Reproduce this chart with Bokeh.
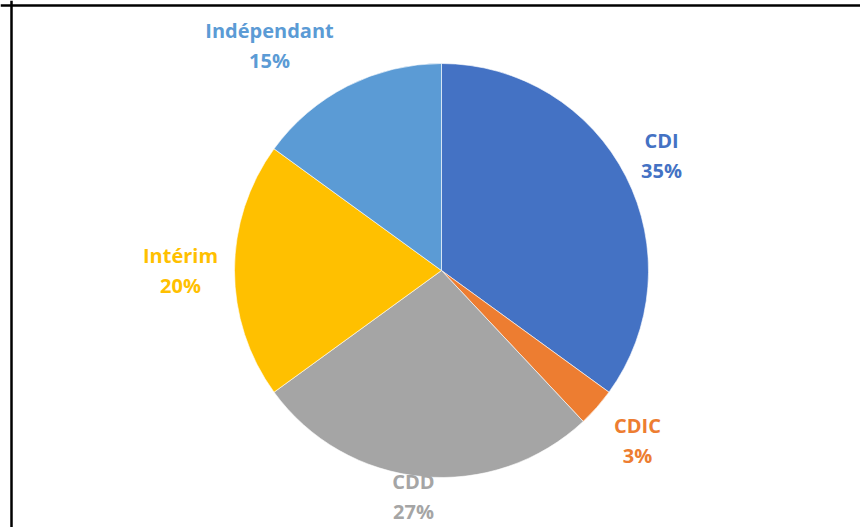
import math
from bokeh.plotting import figure
from bokeh.models import Range1d, Span, ColumnDataSource
from bokeh.core.properties import value
from bokeh.embed import file_html
from bokeh.resources import INLINE

# ---- data ----
categories = ["CDI", "CDIC", "CDD", "Intérim", "Indépendant"]
shares = [35, 3, 27, 20, 15]
colors = ["#4472C4", "#ED7D31", "#A5A5A5", "#FFC000", "#5B9BD5"]

# ---- layout (pixels) ----
W, H = 860, 527
CX, CY = 441, -270          # pie centre in canvas pixel coords (y down = negative)
R = 207
# label block centre offsets from pie centre (dx right, dy down)
label_dx = [220, 196, -28, -261, -172]
label_dy = [-115, 170, 226, 0, -225]

total = float(sum(shares))
starts, ends = [], []
cum = 0.0
for s in shares:
    a0 = math.pi / 2 - 2 * math.pi * cum / total
    cum += s
    a1 = math.pi / 2 - 2 * math.pi * cum / total
    starts.append(a1)
    ends.append(a0)

src = ColumnDataSource(dict(
    x=[CX] * len(shares), y=[CY] * len(shares),
    start=starts, end=ends, color=colors,
))

lab = ColumnDataSource(dict(
    x=[CX + d for d in label_dx],
    y=[CY - d for d in label_dy],
    name=categories,
    pct=[f"{s}%" for s in shares],
    color=colors,
))

p = figure(width=W, height=H, output_backend="svg", toolbar_location=None,
           x_range=Range1d(0, W), y_range=Range1d(-H, 0),
           min_border=0, outline_line_color=None)
p.axis.visible = False
p.grid.visible = False
p.background_fill_color = "white"
p.border_fill_color = "white"

p.wedge(x="x", y="y", radius=R, start_angle="start", end_angle="end",
        fill_color="color", line_color="white", line_width=0.6, source=src)

p.text(x="x", y="y", text="name", text_color="color", source=lab,
       text_font=value("Open Sans"), text_font_style="bold",
       text_font_size="20px", text_align="center", text_baseline="middle",
       y_offset=-15)
p.text(x="x", y="y", text="pct", text_color="color", source=lab,
       text_font=value("Open Sans"), text_font_style="bold",
       text_font_size="20px", text_align="center", text_baseline="middle",
       y_offset=15)

# frame lines (left and top only, as in the reference)
p.add_layout(Span(location=11, dimension="height", line_color="black", line_width=2.5))
p.add_layout(Span(location=-5, dimension="width", line_color="black", line_width=2.5))

open("out.html", "w").write(file_html(p, INLINE))
